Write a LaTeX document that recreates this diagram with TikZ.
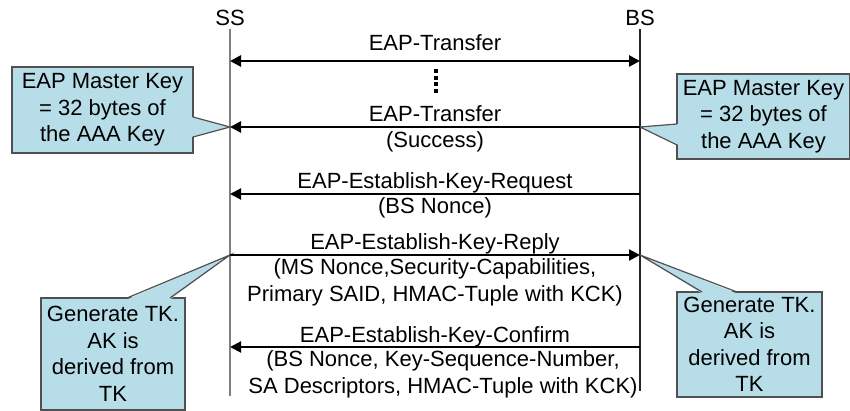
\documentclass[tikz,border=0pt]{standalone}
\usepackage{fontspec}
\setmainfont{Liberation Sans}
\usepackage{xcolor}
\usetikzlibrary{arrows.meta,positioning,calc}
\definecolor{notefill}{HTML}{B7DEE8}
\definecolor{noteline}{HTML}{505050}

\begin{document}
\begin{tikzpicture}[x=1pt, y=-1pt, >={Triangle[length=11pt,width=11pt]},
		every node/.style={font=\fontsize{22}{26.5}\selectfont},
		lifeline/.style={line width=1.3pt},
		msg/.style={->, line width=2pt},
		toplabel/.style={midway, anchor=base, yshift=#1, inner sep=0pt},
		toplabel/.default=5pt,
		sublabel/.style={midway, anchor=north, yshift=-3pt, inner sep=0pt, align=center},
		keynote/.style={draw=noteline, fill=notefill, line width=1.2pt, align=center, inner sep=0pt, outer sep=0pt},
		pointer/.style={draw=noteline, line width=1.2pt}]
			\useasboundingbox (0,0) rectangle (850,411);

			% Stations and lifelines
			\node (ss) at (230,18) {SS};
			\node (bs) at (640,18) {BS};
			\coordinate (ssend) at (230,396);
			\coordinate (bsend) at (640,391);
			\draw[lifeline, draw=black!50] (ss.south) -- (ssend);
			\draw[lifeline, draw=black!85] (bs.south) -- (bsend);

			% Message ends on the lifelines
			\foreach \n/\y in {1/61, 2/127, 3/194, 4/255, 5/347} {
				\coordinate (s\n) at (230,\y);
				\coordinate (b\n) at (640,\y);
			}

			% Callout boxes
			\node[keynote, minimum width=181pt, minimum height=86pt] (keyL) at (102.5,110) {EAP Master Key\\= 32 bytes of\\the AAA Key};
			\node[keynote, minimum width=173pt, minimum height=85pt] (keyR) at (763.5,116.5) {EAP Master Key\\= 32 bytes of\\the AAA Key};
			\node[keynote, minimum width=144pt, minimum height=112pt] (tkL) at (113,354) {Generate TK.\\AK is\\derived from\\TK};
			\node[keynote, minimum width=145pt, minimum height=105pt] (tkR) at (749.5,344.5) {Generate TK.\\AK is\\derived from\\TK};

			% Callout pointers
			\fill[notefill] ($(keyL.east)+(-1.5,7)$) -- (s2) -- ($(keyL.east)+(-1.5,27)$) -- cycle;
			\draw[pointer] ($(keyL.east)+(0,7)$) -- (s2) -- ($(keyL.east)+(0,27)$);
			\fill[notefill] ($(keyR.west)+(1.5,7.5)$) -- (b2) -- ($(keyR.west)+(1.5,28.5)$) -- cycle;
			\draw[pointer] ($(keyR.west)+(0,7.5)$) -- (b2) -- ($(keyR.west)+(0,28.5)$);
			\fill[notefill] ($(tkL.north)+(14,1.5)$) -- (s4) -- ($(tkL.north)+(57,1.5)$) -- cycle;
			\draw[pointer] ($(tkL.north)+(14,0)$) -- (s4) -- ($(tkL.north)+(57,0)$);
			\fill[notefill] ($(tkR.north)+(-47.5,1.5)$) -- (b4) -- ($(tkR.north)+(-12.5,1.5)$) -- cycle;
			\draw[pointer] ($(tkR.north)+(-47.5,0)$) -- (b4) -- ($(tkR.north)+(-12.5,0)$);

			% Messages
			\draw[msg, <->, line width=2.6pt] (s1) -- (b1) node[toplabel=10pt] (m1) {EAP-Transfer};
			\draw[line width=4pt, dash pattern=on 4pt off 2.6pt] (436,69) -- (436,93);
			\draw[msg, line width=2.6pt] (b2) -- (s2) node[toplabel] (m2) {EAP-Transfer}
				node[sublabel] (m2s) {(Success)};
			\draw[msg] (b3) -- (s3) node[toplabel] (m3) {EAP-Establish-Key-Request}
				node[sublabel] (m3s) {(BS Nonce)};
			\draw[msg] (s4) -- (b4) node[toplabel] (m4) {EAP-Establish-Key-Reply}
				node[sublabel] (m4s) {(MS Nonce,Security-Capabilities,\\Primary SAID, HMAC-Tuple with KCK)};
			\draw[msg] (b5) -- (s5) node[toplabel] (m5) {EAP-Establish-Key-Confirm}
				node[sublabel, xshift=8pt] (m5s) {(BS Nonce, Key-Sequence-Number,\\SA Descriptors, HMAC-Tuple with KCK)};

		\end{tikzpicture}
\end{document}
